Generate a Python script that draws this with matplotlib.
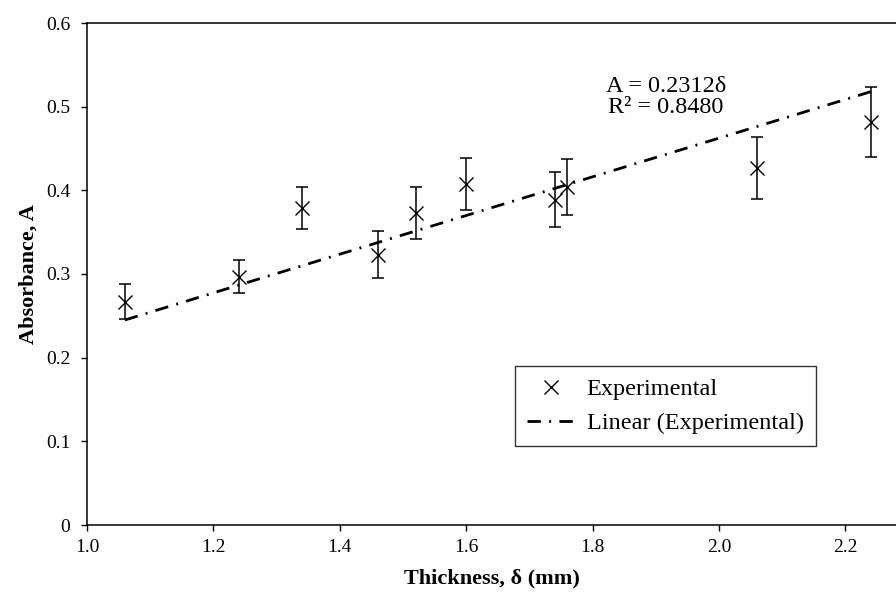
import numpy as np
import matplotlib.pyplot as plt

plt.rcParams['font.family'] = ['Liberation Serif', 'DejaVu Serif']

# Measured absorbance vs. thickness
thickness = [1.06, 1.24, 1.34, 1.46, 1.52, 1.60, 1.74, 1.76, 2.06, 2.24]
absorbance = [0.267, 0.297, 0.379, 0.323, 0.373, 0.408, 0.389, 0.404, 0.427, 0.482]
abs_err = [0.021, 0.020, 0.025, 0.028, 0.031, 0.031, 0.033, 0.034, 0.037, 0.042]

# Linear fit through origin
slope = 0.2312
r2 = 0.8480
fit_range = [1.06, 2.24]

fig = plt.figure(figsize=(8.96, 5.94), dpi=100)
ax = fig.add_axes([87 / 896, 69 / 594, 809 / 896, 502 / 594])

ax.errorbar(thickness, absorbance, yerr=abs_err, fmt='none', ecolor='black',
            elinewidth=1.1, capsize=4, capthick=1.1, zorder=2)
ax.plot(thickness, absorbance, linestyle='none', marker='x', color='black',
        markersize=10.5, markeredgewidth=1.0, label='Experimental', zorder=3)

x_fit = np.array(fit_range)
ax.plot(x_fit, slope * x_fit, color='black', linewidth=2.0,
        dashes=[4.8, 3.0, 0.7, 3.0], label='Linear (Experimental)', zorder=4)

ax.text(1.916, 0.487, 'A = %.4f\u03b4\nR\u00b2 = %.4f' % (slope, r2), fontsize=17.5,
        ha='center', va='bottom', multialignment='center', linespacing=0.95)

ax.set_xlim(1.0, 2.28)
ax.set_ylim(0, 0.6)
ax.set_xticks([1.0, 1.2, 1.4, 1.6, 1.8, 2.0, 2.2])
ax.set_xticklabels(['1.0', '1.2', '1.4', '1.6', '1.8', '2.0', '2.2'])
ax.set_yticks([0, 0.1, 0.2, 0.3, 0.4, 0.5, 0.6])
ax.set_yticklabels(['0', '0.1', '0.2', '0.3', '0.4', '0.5', '0.6'])
ax.tick_params(direction='out', length=4, width=1, labelsize=14, colors='black')
ax.tick_params(axis='x', pad=6)
ax.tick_params(axis='y', pad=8)
ax.spines['right'].set_visible(False)
for s in ['left', 'bottom', 'top']:
    ax.spines[s].set_linewidth(1.1)

ax.set_xlabel('Thickness, \u03b4 (mm)', fontsize=16, fontweight='bold', labelpad=9)
ax.set_ylabel('Absorbance, A', fontsize=16, fontweight='bold', labelpad=5)

leg = ax.legend(loc='upper left', bbox_to_anchor=((515 - 87) / 809, (525 - 366) / 502),
                fontsize=17.5, frameon=True, fancybox=False, edgecolor='black',
                handlelength=2.0, handletextpad=0.45, borderpad=0.5, labelspacing=0.5,
                borderaxespad=0)
leg.get_frame().set_linewidth(1.0)

fig.savefig('out.png', dpi=100)
